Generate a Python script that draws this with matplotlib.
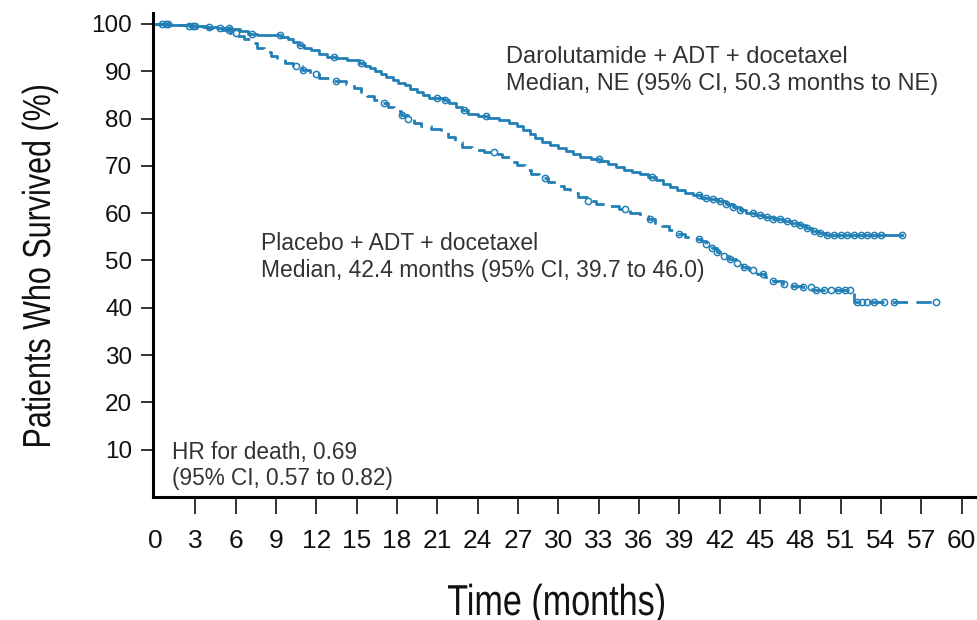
import numpy as np
import matplotlib.pyplot as plt
from matplotlib.font_manager import FontProperties
from matplotlib.textpath import TextPath
from matplotlib.patches import PathPatch
from matplotlib.transforms import Affine2D

# Kaplan-Meier step data (months, % surviving)
daro_t = [0, 1.2, 2.5, 3.6, 4.6, 5.6, 6.3, 6.9, 7.6, 9.4, 9.9, 10.3, 10.7, 11.1,
          11.6, 12.2, 12.8, 13.5, 14.3, 15.2, 15.6, 16.0, 16.4, 16.8, 17.2, 17.7,
          18.1, 18.6, 19.0, 19.5, 19.9, 20.4, 21.5, 21.9, 22.4, 22.8, 23.3, 24.0,
          24.8, 25.6, 26.3, 26.9, 27.4, 27.9, 28.3, 28.8, 29.4, 30.0, 30.6, 31.1,
          31.6, 32.4, 33.1, 33.7, 34.3, 34.9, 35.5, 36.1, 36.7, 37.3, 37.8, 38.3,
          38.8, 39.4, 40.0, 40.6, 41.2, 41.9, 42.5, 43.0, 43.5, 44.0, 44.6, 45.3,
          46.0, 46.7, 47.3, 47.9, 48.4, 48.9, 49.4, 49.9, 55.6]
daro_s = [100, 99.8, 99.6, 99.4, 99.2, 98.9, 98.4, 97.9, 97.6, 97.3, 96.8, 96.2,
          95.6, 95.0, 94.4, 93.7, 93.1, 92.7, 92.3, 91.8, 91.2, 90.6, 90.0, 89.4,
          88.8, 88.2, 87.6, 87.0, 86.3, 85.6, 85.0, 84.4, 83.9, 83.2, 82.4, 81.7,
          81.0, 80.5, 80.1, 79.6, 79.0, 78.4, 77.6, 76.7, 75.8, 75.0, 74.4, 73.8,
          73.1, 72.4, 71.8, 71.4, 71.0, 70.4, 69.8, 69.2, 68.7, 68.2, 67.6, 66.9,
          66.2, 65.5, 64.9, 64.3, 63.8, 63.3, 62.9, 62.5, 62.0, 61.4, 60.7, 60.1,
          59.6, 59.2, 58.8, 58.4, 58.0, 57.4, 56.9, 56.3, 55.8, 55.4, 55.4]
daro_cens = [0.5, 1.0, 2.5, 3.0, 4.0, 4.8, 5.5, 7.2, 9.3, 10.8, 13.3, 15.3, 21.0,
             21.6, 23.0, 24.6, 33.0, 37.0, 40.5, 41.0, 41.5, 42.0, 42.5, 43.0, 43.5,
             44.5, 45.0, 45.5, 46.0, 46.5, 47.0, 47.5, 48.0, 48.5, 49.0, 49.5, 50.0,
             50.5, 51.0, 51.5, 52.0, 52.5, 53.0, 53.5, 54.0, 55.6]

plac_t = [0, 1.5, 2.8, 3.9, 5.0, 5.6, 6.1, 6.6, 7.1, 7.6, 8.1, 8.6, 9.1, 9.7,
          10.3, 10.9, 11.5, 12.2, 13.2, 14.2, 14.8, 15.3, 15.8, 16.3, 16.8, 17.3,
          17.8, 18.3, 18.8, 19.3, 19.8, 20.5, 21.3, 21.8, 22.3, 22.8, 23.6, 24.5,
          25.3, 25.8, 26.4, 26.9, 27.5, 28.0, 28.6, 29.2, 29.8, 30.4, 30.9, 31.5,
          32.1, 32.8, 33.6, 34.5, 35.3, 36.1, 36.7, 37.2, 37.7, 38.2, 38.8, 39.4,
          40.0, 40.6, 41.0, 41.4, 41.8, 42.2, 42.7, 43.2, 43.7, 44.2, 44.8, 45.4,
          46.0, 46.7, 47.4, 48.1, 48.9, 51.8, 52.0, 58.1]
plac_s = [100, 99.8, 99.5, 99.1, 98.7, 98.1, 97.4, 96.7, 95.9, 95.0, 94.1, 93.2,
          92.5, 91.7, 91.0, 90.3, 89.4, 88.6, 88.0, 87.3, 86.4, 85.5, 84.7, 83.9,
          83.2, 82.4, 81.6, 80.8, 79.9, 79.1, 78.5, 77.8, 77.1, 76.1, 75.0, 73.9,
          73.4, 73.0, 72.5, 71.8, 70.9, 70.1, 69.2, 68.3, 67.4, 66.6, 65.8, 65.0,
          64.2, 63.4, 62.6, 62.0, 61.5, 60.8, 60.1, 59.4, 58.8, 58.0, 57.2, 56.4,
          55.6, 55.0, 54.6, 54.2, 53.4, 52.6, 51.8, 51.0, 50.3, 49.5, 48.7, 47.9,
          47.1, 46.4, 45.7, 45.1, 44.7, 44.3, 43.8, 43.8, 41.2, 41.2]
plac_cens = [0.8, 2.8, 5.5, 6.0, 10.5, 11.0, 12.0, 13.5, 17.0, 18.4, 18.8, 25.2,
             29.0, 32.2, 35.0, 36.8, 39.0, 40.5, 41.0, 41.4, 41.8, 42.3, 42.8, 43.3,
             43.8, 44.5, 45.2, 46.0, 46.8, 47.5, 48.2, 48.8, 49.2, 49.8, 50.3, 50.8,
             51.3, 51.7, 52.2, 52.6, 53.0, 53.5, 54.2, 55.0, 58.1]

xticks = list(range(0, 61, 3))
yticks = list(range(10, 101, 10))

plt.rcParams['font.family'] = ['Liberation Sans', 'DejaVu Sans']

color = '#2280b6'
txt = '#333333'
W, H = 977, 620


def step_value(t_arr, s_arr, t):
    idx = np.searchsorted(t_arr, t, side='right') - 1
    return np.asarray(s_arr)[idx]


def condensed_text(fig, s, xc, ybase, cap_px, width_px, rotate=False):
    # axis titles are set in a condensed face: squeeze a text path horizontally
    em = cap_px / 0.716
    tp = TextPath((0, 0), s, size=em, prop=FontProperties(family='Liberation Sans'))
    ext = tp.get_extents()
    tr = Affine2D().translate(-(ext.x0 + ext.width / 2), 0).scale(width_px / ext.width, 1)
    if rotate:
        tr = tr.rotate_deg(90)
    tr = tr.translate(xc, H - ybase)
    fig.add_artist(PathPatch(tp, transform=tr, fc='#111111', lw=0))


fig = plt.figure(figsize=(W / 100, H / 100), dpi=100)
ax = fig.add_axes([153 / W, 1 - 497 / H, 822 / W, 484 / H])

ax.step(daro_t, daro_s, where='post', color=color, lw=2.0)
ax.plot(daro_cens, step_value(daro_t, daro_s, daro_cens), 'o', ms=4.5,
        mfc='none', mec=color, mew=1.1)

ax.step(plac_t, plac_s, where='post', color=color, lw=2.0, ls=(0, (5.5, 3)))
ax.plot(plac_cens, step_value(plac_t, plac_s, plac_cens), 'o', ms=4.5,
        mfc='none', mec=color, mew=1.1)

ax.set_xlim(-0.15, 61.0)
ax.set_ylim(0, 102.3)

ax.set_xticks(xticks)
ax.set_xticklabels([str(v) for v in xticks], fontsize=19)
ax.set_yticks(yticks)
ax.set_yticklabels([str(v) for v in yticks], fontsize=17.5)
ax.tick_params(axis='x', length=12, width=1.2, pad=11, colors='#111111')
ax.tick_params(axis='y', length=9, width=1.2, pad=6, colors='#111111')
ax.xaxis.get_major_ticks()[0].tick1line.set_visible(False)

for side in ('top', 'right'):
    ax.spines[side].set_visible(False)
ax.spines['left'].set_linewidth(2.2)
ax.spines['bottom'].set_linewidth(2.2)

condensed_text(fig, 'Time (months)', 556, 615, 31, 216)
condensed_text(fig, 'Patients Who Survived (%)', 50, 266, 28, 360, rotate=True)

ax.text(26.1, 95.3, 'Darolutamide + ADT + docetaxel\nMedian, NE (95% CI, 50.3 months to NE)',
        fontsize=17, color=txt, va='top', ha='left', linespacing=1.3)
ax.text(7.9, 56.0, 'Placebo + ADT + docetaxel\nMedian, 42.4 months (95% CI, 39.7 to 46.0)',
        fontsize=16.5, color=txt, va='top', ha='left', linespacing=1.2)
ax.text(1.25, 11.8, 'HR for death, 0.69\n(95% CI, 0.57 to 0.82)',
        fontsize=16.3, color=txt, va='top', ha='left', linespacing=1.15)

fig.savefig('out.png', dpi=100)
